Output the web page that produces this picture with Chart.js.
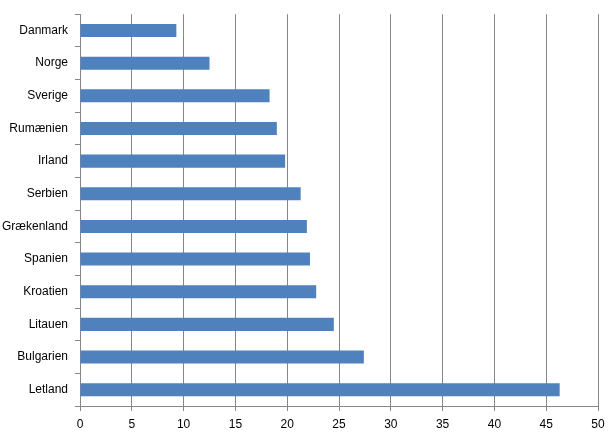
<!DOCTYPE html>
<html>
<head>
<meta charset="utf-8">
<script src="https://cdn.jsdelivr.net/npm/chart.js@4"></script>
<style>
html,body{margin:0;padding:0;background:#fff;}
#wrap{width:615px;height:436px;}
</style>
</head>
<body>
<div id="wrap"><canvas id="c" width="615" height="436"></canvas></div>
<script>
const categories = ["Danmark","Norge","Sverige","Rumænien","Irland","Serbien","Grækenland","Spanien","Kroatien","Litauen","Bulgarien","Letland"];
const values = [9.3, 12.5, 18.3, 19.0, 19.8, 21.3, 21.9, 22.2, 22.8, 24.5, 27.4, 46.3];
const xTicks = [0,5,10,15,20,25,30,35,40,45,50];

const gridColor = '#868686';
new Chart(document.getElementById('c'), {
  type: 'bar',
  data: {
    labels: categories,
    datasets: [{
      data: values,
      backgroundColor: '#4F81BD',
      borderWidth: 0,
      categoryPercentage: 1,
      barPercentage: 0.4
    }]
  },
  options: {
    indexAxis: 'y',
    responsive: false,
    animation: false,
    layout: { padding: { left: 0, right: 17, top: 12, bottom: 0 } },
    plugins: { legend: { display: false }, tooltip: { enabled: false } },
    scales: {
      x: {
        min: 0, max: 50,
        afterBuildTicks: (s) => { s.ticks = xTicks.map(v => ({ value: v })); },
        afterFit: (s) => { s.height = 30; },
        grid: { color: gridColor, lineWidth: 1, tickLength: 5, drawTicks: true },
        border: { color: gridColor, width: 1 },
        ticks: { color: '#000', font: { family: 'Liberation Sans', size: 12 }, padding: 6, maxRotation: 0 }
      },
      y: {
        offset: true,
        afterFit: (s) => { s.width = 80; },
        grid: { offset: true, drawOnChartArea: false, color: gridColor, tickLength: 5 },
        border: { color: gridColor, width: 1 },
        ticks: { color: '#000', font: { family: 'Liberation Sans', size: 12 }, padding: 7 }
      }
    }
  }
});
</script>
</body>
</html>
